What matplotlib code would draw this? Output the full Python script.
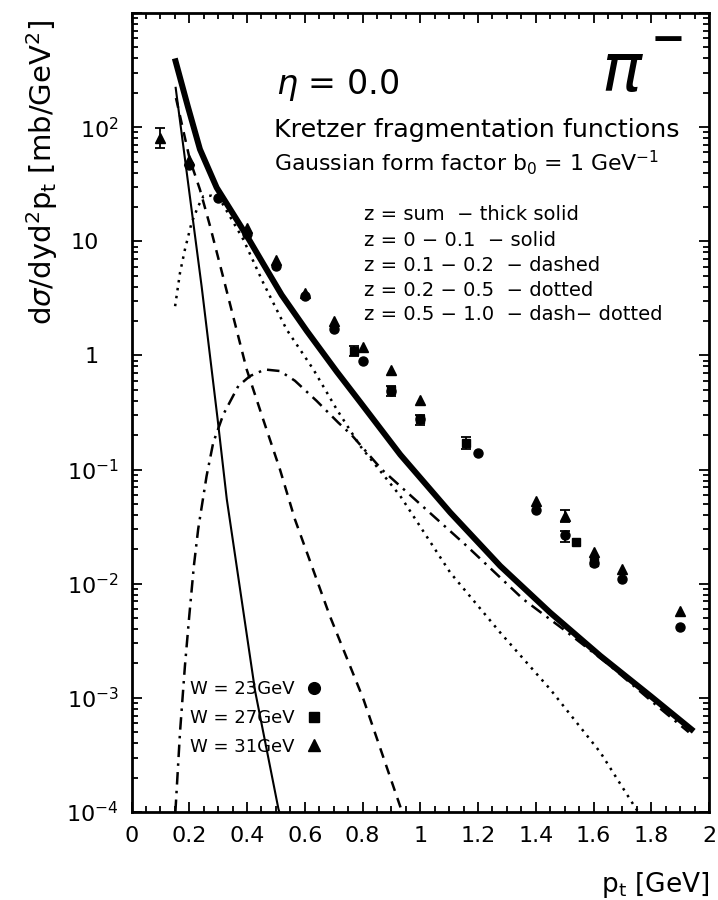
"""pi- invariant cross section at eta = 0 vs pt, split by z bins of the
Kretzer fragmentation functions, compared with W = 23/27/31 GeV data."""
import numpy as np
import matplotlib
matplotlib.use("Agg")
import matplotlib.pyplot as plt
from matplotlib.ticker import MultipleLocator, FixedLocator, LogLocator, FuncFormatter
from matplotlib.transforms import ScaledTranslation

# model curves, pt [GeV] -> d sigma / dy d^2pt [mb/GeV^2]
pt_sum = [0.150, 0.195, 0.237, 0.295, 0.399, 0.457, 0.520, 0.607, 0.711, 0.792,
          0.931, 1.104, 1.277, 1.450, 1.624, 1.797, 1.947]
xs_sum = [400, 152, 64.0, 29.5, 11.2, 6.3, 3.39, 1.64, 0.72, 0.39,
          0.135, 0.042, 0.0143, 0.00558, 0.00233, 0.00104, 0.00051]

pt_z1 = [0.153, 0.243, 0.298, 0.330, 0.428, 0.509, 0.512]      # z = 0 - 0.1
xs_z1 = [221, 4.0, 0.28, 0.055, 0.00115, 1.06e-4, 1.0e-4]

pt_z2 = [0.154, 0.202, 0.237, 0.272, 0.315, 0.399, 0.456, 0.514, 0.566,
         0.687, 0.803, 0.930, 0.937]                              # z = 0.1 - 0.2
xs_z2 = [180, 52.0, 28.4, 13.6, 5.13, 0.753, 0.275, 0.1005, 0.0366,
         0.00521, 0.000977, 0.000113, 0.0001]

pt_z3 = [0.151, 0.168, 0.185, 0.208, 0.231, 0.249, 0.277, 0.306, 0.387, 0.456,
         0.537, 0.630, 0.711, 0.792, 0.931, 1.104, 1.277, 1.450, 1.624, 1.745,
         1.755]                                                   # z = 0.2 - 0.5
xs_z3 = [2.70, 5.30, 8.47, 14.5, 20.3, 24.8, 25.1, 23.4, 10.4, 4.34,
         1.69, 0.753, 0.336, 0.161, 0.0586, 0.0125, 0.00373, 0.00119, 0.000332,
         0.000109, 0.0001]

pt_z4 = [0.152, 0.168, 0.185, 0.200, 0.216, 0.231, 0.260, 0.283, 0.318, 0.370,
         0.410, 0.462, 0.514, 0.566, 0.641, 0.716, 0.763, 0.867, 0.988, 1.161,
         1.357, 1.496, 1.659, 1.820, 1.930]                       # z = 0.5 - 1.0
xs_z4 = [1.0e-4, 5.0e-4, 1.9e-3, 5.2e-3, 0.0143, 0.0302, 0.0877, 0.172, 0.304, 0.540,
         0.659, 0.753, 0.730, 0.60, 0.40, 0.258, 0.20, 0.100, 0.053, 0.0214,
         0.0073, 0.00398, 0.0019, 0.00085, 0.00050]

# data, W = 23 / 27 / 31 GeV  (errors: lower, upper; 0 = no bar drawn)
pt_w23 = [0.2, 0.3, 0.4, 0.5, 0.6, 0.7, 0.8, 0.9, 1.0, 1.2, 1.4, 1.5, 1.6, 1.7, 1.9]
xs_w23 = [47, 24, 11.5, 6.05, 3.3, 1.69, 0.89, 0.49, 0.275, 0.141, 0.0442, 0.0265,
          0.0153, 0.0111, 0.0042]
lo_w23 = [0, 0, 0, 0, 0, 0, 0, 0.047, 0.03, 0, 0, 0.0035, 0, 0, 0]
hi_w23 = [0, 0, 0, 0, 0, 0, 0, 0.050, 0.025, 0, 0, 0.0025, 0, 0, 0]

pt_w27 = [0.77, 0.9, 1.0, 1.16, 1.54, 1.6]
xs_w27 = [1.09, 0.50, 0.28, 0.172, 0.0232, 0.0155]
lo_w27 = [0.11, 0, 0, 0.022, 0, 0]
hi_w27 = [0.13, 0, 0, 0.019, 0, 0]

pt_w31 = [0.1, 0.2, 0.4, 0.5, 0.6, 0.7, 0.8, 0.9, 1.0, 1.4, 1.5, 1.6, 1.7, 1.9]
xs_w31 = [80, 52, 13.1, 6.9, 3.54, 2.0, 1.18, 0.74, 0.41, 0.053, 0.039, 0.019,
          0.0135, 0.00577]
lo_w31 = [15, 0, 0, 0, 0, 0, 0, 0, 0, 0, 0.0046, 0, 0, 0]
hi_w31 = [19, 0, 0, 0, 0, 0, 0, 0, 0, 0, 0.0048, 0, 0, 0]

z_notes = ["z = sum  − thick solid",
           "z = 0 − 0.1  − solid",
           "z = 0.1 − 0.2  − dashed",
           "z = 0.2 − 0.5  − dotted",
           "z = 0.5 − 1.0  − dash− dotted"]

y_ticklabels = {1e-4: r"$10^{-4}$", 1e-3: r"$10^{-3}$", 1e-2: r"$10^{-2}$",
                1e-1: r"$10^{-1}$", 1.0: "1", 10.0: "10", 100.0: r"$10^{2}$",
                1000.0: ""}

W, H = 718, 900
fig = plt.figure(figsize=(W / 100, H / 100), dpi=100)
ax = fig.add_axes([131.5 / W, 1 - 812 / H, 577.5 / W, 799 / H])
ax.set_yscale("log")
ax.set_xlim(0, 2)
ax.set_ylim(1e-4, 1e3)

ax.plot(pt_sum, xs_sum, color="k", lw=4.3, solid_capstyle="butt")
ax.plot(pt_z1, xs_z1, color="k", lw=1.5)
ax.plot(pt_z2, xs_z2, color="k", lw=1.8, ls=(0, (4, 3)))
ax.plot(pt_z3, xs_z3, color="k", lw=1.8, ls=(0, (1, 2.2)))
ax.plot(pt_z4, xs_z4, color="k", lw=1.8, ls=(0, (5, 2.5, 1, 2.5)))

series = [(pt_w23, xs_w23, lo_w23, hi_w23, "o", 6.5, "W = 23GeV"),
          (pt_w27, xs_w27, lo_w27, hi_w27, "s", 6.0, "W = 27GeV"),
          (pt_w31, xs_w31, lo_w31, hi_w31, "^", 6.5, "W = 31GeV")]
handles = []
for pt, xs, lo, hi, mk, ms, lab in series:
    h, = ax.plot(pt, xs, mk, color="k", ms=ms, ls="none", label=lab)
    handles.append(h)
    pt, xs, lo, hi = map(np.asarray, (pt, xs, lo, hi))
    m = (lo > 0) | (hi > 0)
    ax.errorbar(pt[m], xs[m], yerr=[lo[m], hi[m]], fmt="none", ecolor="k",
                elinewidth=1.3, capsize=3.5, capthick=1.3)

ax.legend(handles=handles, loc="upper left", markerfirst=False, frameon=False,
          bbox_to_anchor=(190 / W, 1 - 680 / H), bbox_transform=fig.transFigure,
          fontsize=13, handlelength=1.0, handletextpad=0.6, labelspacing=0.6,
          markerscale=1.3, borderpad=0, borderaxespad=0)

# axes, ticks
for s in ax.spines.values():
    s.set_linewidth(2)
ax.xaxis.set_major_locator(MultipleLocator(0.2))
ax.xaxis.set_minor_locator(MultipleLocator(0.05))
ax.xaxis.set_major_formatter(FuncFormatter(lambda v, p: f"{v:g}"))
ax.yaxis.set_major_locator(FixedLocator(list(y_ticklabels)))
ax.yaxis.set_minor_locator(LogLocator(base=10, subs=np.arange(2, 10), numticks=30))
ax.yaxis.set_major_formatter(FuncFormatter(lambda v, p: y_ticklabels.get(v, "")))
ax.tick_params(which="both", direction="in", top=True, right=True, width=1.3,
               labelsize=16)
ax.tick_params(which="major", length=7)
ax.tick_params(which="minor", length=4)
ax.tick_params(axis="x", pad=10)
ax.tick_params(axis="y", pad=9)

# "1" and "10" sit in the column of the "10" of the exponent labels
shift = ScaledTranslation(-0.2, 0, fig.dpi_scale_trans)
for val, tick in zip(y_ticklabels, ax.yaxis.get_major_ticks(len(y_ticklabels))):
    if val in (1.0, 10.0):
        tick.label1.set_transform(tick.label1.get_transform() + shift)

ax.set_xlabel(r"p$_\mathrm{t}$ [GeV]", fontsize=19, loc="right")
ax.xaxis.set_label_coords(1.0, -0.072)
ax.set_ylabel(r"d$\sigma$/dyd$^2$p$_\mathrm{t}$ [mb/GeV$^2$]", fontsize=21, loc="top")
ax.yaxis.set_label_coords(-0.124, 0.991)

# annotations
fig.text(276 / W, 1 - 85 / H, r"$\eta$ = 0.0", fontsize=24, va="center")
fig.text(622 / W, 1 - 72 / H, r"$\pi$", fontsize=48, ha="center", va="center")
fig.text(668 / W, 1 - 40 / H, "−", fontsize=30, fontweight="bold", ha="center", va="center")
fig.text(274 / W, 1 - 130 / H, "Kretzer fragmentation functions", fontsize=18.3, va="center")
fig.text(274 / W, 1 - 163 / H, r"Gaussian form factor b$_0$ = 1 GeV$^{-1}$",
         fontsize=15.8, va="center")
for i, note in enumerate(z_notes):
    fig.text(364 / W, 1 - (215 + 25 * i) / H, note, fontsize=14, va="center")

fig.savefig("out.png", dpi=100)
